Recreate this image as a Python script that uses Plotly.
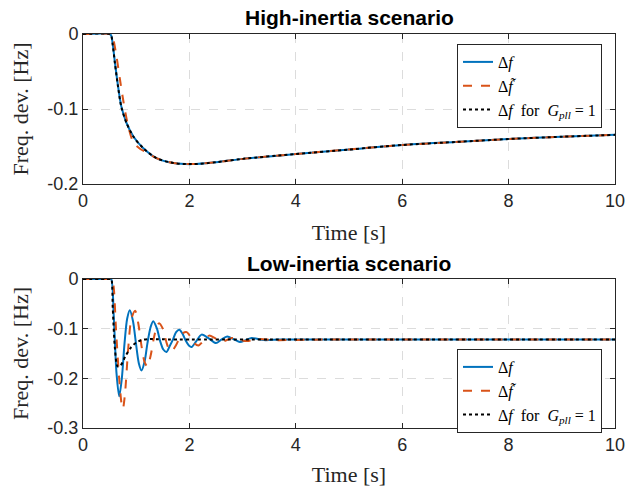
import plotly.graph_objects as go

# ---------------- data ----------------
# High-inertia scenario
t_hi_df = [0, 0.50, 0.53, 0.56, 0.60, 0.66, 0.72, 0.82, 0.95, 1.13, 1.38, 1.70, 2.05, 2.5, 3.0, 4.0, 5.0, 6.0, 7.0, 8.0, 9.0, 10.0]
v_hi_df = [0, 0, -0.002, -0.014, -0.038, -0.070, -0.0965, -0.119, -0.137, -0.152, -0.1655, -0.172, -0.1735, -0.171, -0.1665, -0.160, -0.154, -0.148, -0.144, -0.140, -0.137, -0.1345]

t_hi_dft = [0, 0.52, 0.55, 0.58, 0.63, 0.70, 0.76, 0.85, 0.95, 1.07, 1.20, 1.38, 1.70, 2.05, 2.5, 3.0, 4.0, 5.0, 6.0, 7.0, 8.0, 9.0, 10.0]
v_hi_dft = [0, 0, -0.002, -0.010, -0.030, -0.063, -0.090, -0.123, -0.145, -0.153, -0.158, -0.1655, -0.172, -0.1735, -0.171, -0.1665, -0.160, -0.154, -0.148, -0.144, -0.140, -0.137, -0.1345]

t_hi_pll = [0, 0.50, 0.53, 0.56, 0.60, 0.66, 0.72, 0.82, 0.95, 1.13, 1.38, 1.70, 2.05, 2.5, 3.0, 4.0, 5.0, 6.0, 7.0, 8.0, 9.0, 10.0]
v_hi_pll = [0, 0, -0.002, -0.015, -0.039, -0.071, -0.097, -0.119, -0.137, -0.152, -0.1655, -0.172, -0.1735, -0.171, -0.1665, -0.160, -0.154, -0.148, -0.144, -0.140, -0.137, -0.1345]

# Low-inertia scenario
t_lo_df = [0, 0.50, 0.53, 0.58, 0.63, 0.68, 0.73, 0.78, 0.83, 0.88, 0.94, 0.99, 1.05, 1.10, 1.16, 1.21,
           1.27, 1.32, 1.39, 1.45, 1.51, 1.57, 1.63, 1.69, 1.75, 1.81, 1.87, 1.93, 1.99, 2.04, 2.13,
           2.23, 2.37, 2.50, 2.60, 2.71, 2.83, 2.95, 3.06, 3.17, 3.40, 3.70, 4.5, 10.0]
v_lo_df = [0, 0, 0, -0.08, -0.19, -0.236, -0.20, -0.13, -0.08, -0.063, -0.085, -0.125, -0.17, -0.184, -0.165, -0.13,
           -0.097, -0.085, -0.10, -0.125, -0.142, -0.147, -0.135, -0.122, -0.107, -0.102, -0.11, -0.124, -0.134, -0.137, -0.125,
           -0.112, -0.12, -0.129, -0.122, -0.116, -0.121, -0.127, -0.123, -0.119, -0.123, -0.122, -0.122, -0.122]

t_lo_dft = [0, 0.52, 0.55, 0.58, 0.62, 0.68, 0.73, 0.75, 0.79, 0.85, 0.91, 0.98, 1.04, 1.10, 1.16, 1.21,
            1.27, 1.33, 1.38, 1.43, 1.50, 1.57, 1.62, 1.67, 1.74, 1.81, 1.88, 1.95, 2.03, 2.10, 2.17,
            2.27, 2.37, 2.50, 2.64, 2.80, 2.94, 3.08, 3.30, 3.60, 4.5, 10.0]
v_lo_dft = [0, 0, 0, -0.02, -0.10, -0.20, -0.255, -0.261, -0.23, -0.14, -0.08, -0.064, -0.09, -0.135, -0.168, -0.176,
            -0.155, -0.12, -0.098, -0.089, -0.10, -0.128, -0.142, -0.145, -0.135, -0.12, -0.109, -0.107, -0.118, -0.130, -0.134,
            -0.124, -0.114, -0.12, -0.125, -0.119, -0.122, -0.125, -0.121, -0.123, -0.122, -0.122]

t_lo_pll = [0, 0.50, 0.53, 0.56, 0.60, 0.65, 0.70, 0.80, 0.90, 1.00, 1.10, 1.25, 1.5, 10.0]
v_lo_pll = [0, 0, 0, -0.06, -0.14, -0.176, -0.175, -0.155, -0.138, -0.128, -0.123, -0.121, -0.1215, -0.122]

# ticks
x_ticks = [0, 2, 4, 6, 8, 10]
x_ticktext = ["0", "2", "4", "6", "8", "10"]
y_hi_ticks = [0, -0.1, -0.2]
y_hi_ticktext = ["0", "-0.1", "-0.2"]
y_lo_ticks = [0, -0.1, -0.2, -0.3]
y_lo_ticktext = ["0", "-0.1", "-0.2", "-0.3"]

names = ["Δ<i>f</i>", "Δ<i>f&#771;</i>",
         "Δ<i>f</i>&nbsp;&nbsp;for&nbsp;&nbsp;<i>G</i><sub><i>pll</i></sub>&nbsp;=&nbsp;1"]

# ---------------- styling ----------------
BLUE = "#0072BD"
RED = "#D95319"
BLACK = "#000000"
AX = "#262626"
GRID = "#dcdcdc"
SANS = "Liberation Sans, Arial, Helvetica, sans-serif"
SERIF = "Liberation Serif, Times New Roman, serif"

fig = go.Figure()

def add(t, v, name, color, dash, xa, ya, legend, width=2):
    fig.add_trace(go.Scatter(
        x=t, y=v, mode="lines", name=name,
        line=dict(color=color, dash=dash, width=width, shape="spline", smoothing=0.8),
        xaxis=xa, yaxis=ya, legend=legend))

add(t_hi_df, v_hi_df, names[0], BLUE, "solid", "x", "y", "legend")
add(t_hi_dft, v_hi_dft, names[1], RED, "dash", "x", "y", "legend")
add(t_hi_pll, v_hi_pll, names[2], BLACK, "dot", "x", "y", "legend")
add(t_lo_df, v_lo_df, names[0], BLUE, "solid", "x2", "y2", "legend2")
add(t_lo_dft, v_lo_dft, names[1], RED, "dash", "x2", "y2", "legend2")
add(t_lo_pll, v_lo_pll, names[2], BLACK, "dot", "x2", "y2", "legend2")

H_PLOT = 487 - 34 - 59
top_dom = [1 - 150 / H_PLOT, 1]
bot_dom = [0, 1 - 245 / H_PLOT]

axis_common = dict(
    showline=True, linecolor=AX, linewidth=1, mirror="ticks",
    ticks="inside", ticklen=5, tickcolor=AX, tickwidth=1,
    showgrid=True, gridcolor=GRID, griddash="dash", gridwidth=1,
    zeroline=False, automargin=False,
    tickfont=dict(family=SANS, size=18, color=AX),
)
TITLE_FONT = dict(family=SERIF, size=22, color=AX)
LEG_FONT = dict(family=SERIF, size=16, color="black")

fig.update_layout(
    width=636, height=487,
    margin=dict(l=83, r=21, t=34, b=59, autoexpand=False),
    paper_bgcolor="white", plot_bgcolor="white",
    showlegend=True,
    xaxis=dict(domain=[0, 1], range=[0, 10], tickvals=x_ticks, ticktext=x_ticktext, anchor="y",
               title=dict(text="Time [s]", font=TITLE_FONT, standoff=15), **axis_common),
    yaxis=dict(domain=top_dom, range=[-0.2, 0], tickvals=y_hi_ticks, ticktext=y_hi_ticktext, anchor="x",
               title=dict(text="Freq. dev. [Hz]", font=TITLE_FONT, standoff=12), **axis_common),
    xaxis2=dict(domain=[0, 1], range=[0, 10], tickvals=x_ticks, ticktext=x_ticktext, anchor="y2",
                title=dict(text="Time [s]", font=TITLE_FONT, standoff=15), **axis_common),
    yaxis2=dict(domain=bot_dom, range=[-0.3, 0], tickvals=y_lo_ticks, ticktext=y_lo_ticktext, anchor="x2",
                title=dict(text="Freq. dev. [Hz]", font=TITLE_FONT, standoff=12), **axis_common),
    legend=dict(x=(602 - 83) / 532, xanchor="right", y=1 - 10 / H_PLOT, yanchor="top",
                bgcolor="white", bordercolor=AX, borderwidth=1,
                font=LEG_FONT, tracegroupgap=0),
    legend2=dict(x=(602 - 83) / 532, xanchor="right", y=1 - 315 / H_PLOT, yanchor="top",
                 bgcolor="white", bordercolor=AX, borderwidth=1,
                 font=LEG_FONT, tracegroupgap=0),
    annotations=[
        dict(text="<b>High-inertia scenario</b>", x=0.5, y=1 + 17 / H_PLOT, xref="paper", yref="paper",
             xanchor="center", yanchor="middle", showarrow=False,
             font=dict(family=SANS, size=21, color="black")),
        dict(text="<b>Low-inertia scenario</b>", x=0.5, y=bot_dom[1] + 16 / H_PLOT, xref="paper", yref="paper",
             xanchor="center", yanchor="middle", showarrow=False,
             font=dict(family=SANS, size=21, color="black")),
    ],
)

fig.write_html(
    "out.html",
    config={"displayModeBar": False},
    post_script="document.body.style.margin='0';document.body.style.overflow='hidden';",
)
